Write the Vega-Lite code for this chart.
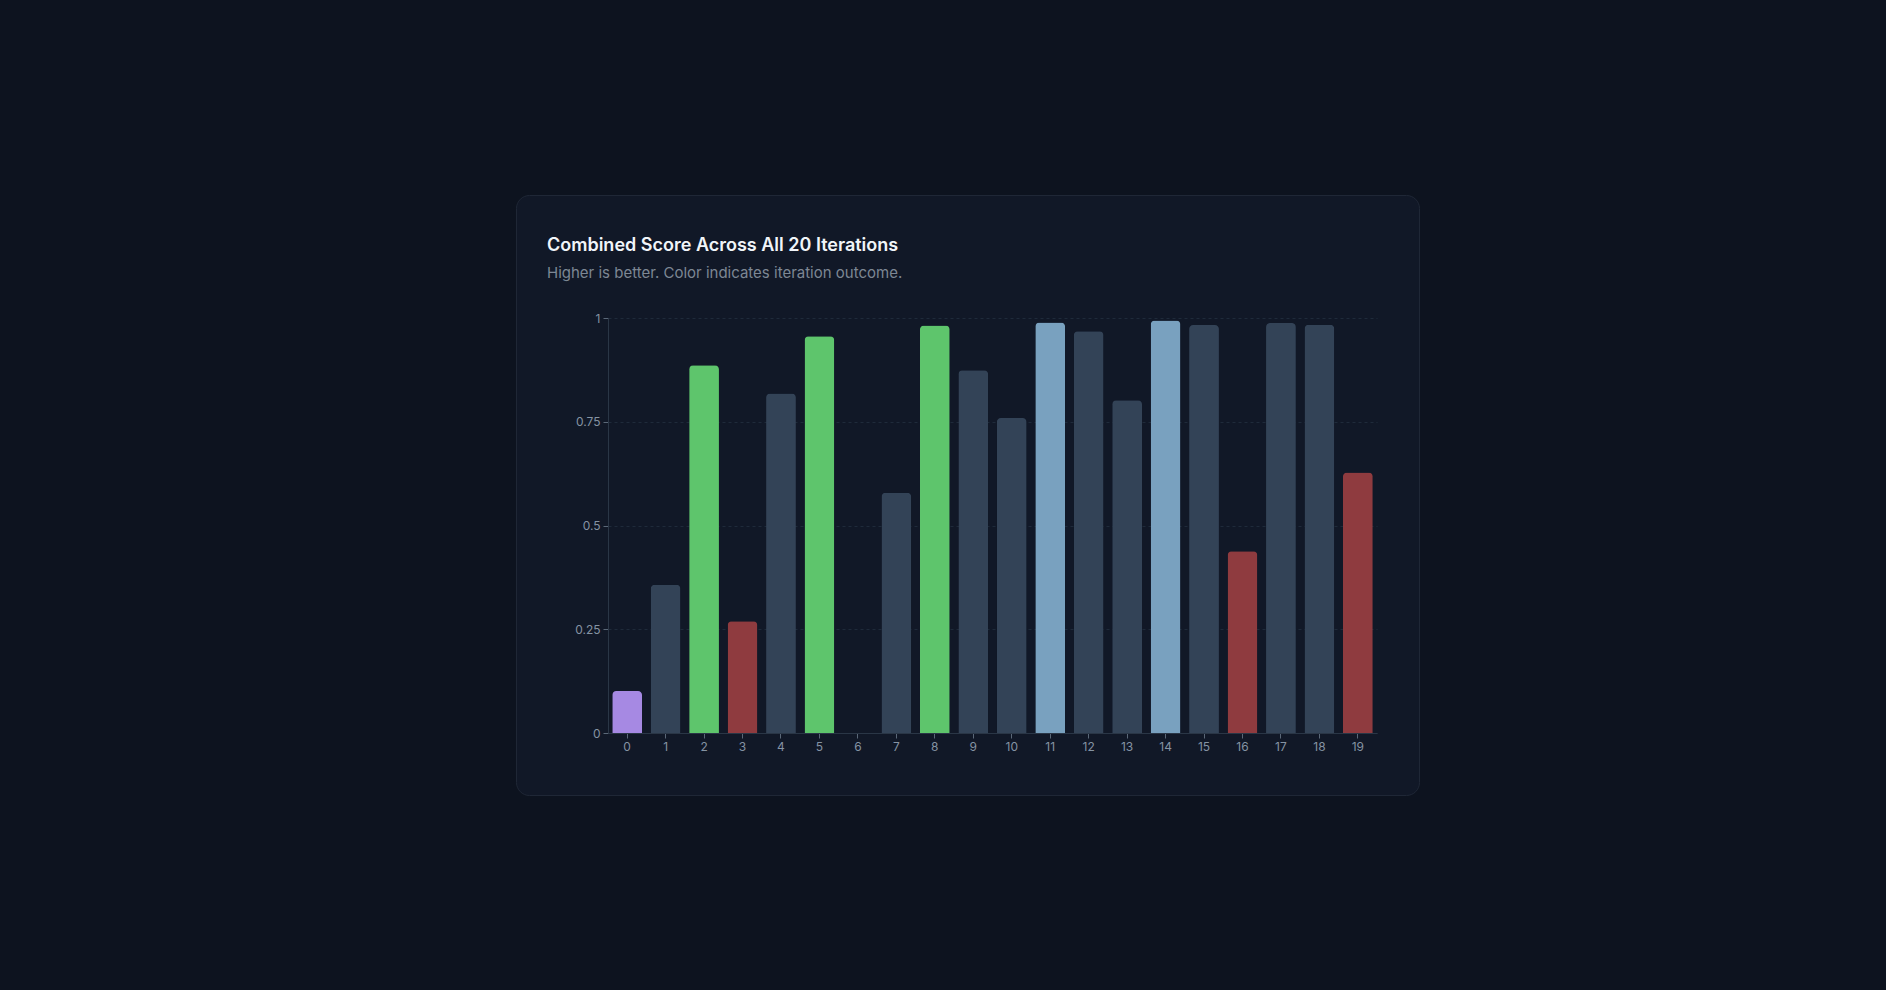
{
  "$schema": "https://vega.github.io/schema/vega-lite/v6.json",
  "autosize": {"type": "none"},
  "width": 903,
  "height": 600,
  "padding": {"left": 516, "top": 195, "right": 467, "bottom": 195},
  "background": "#0d131f",
  "title": {
    "text": "Combined Score Across All 20 Iterations",
    "subtitle": "Higher is better. Color indicates iteration outcome.",
    "anchor": "start",
    "frame": "group",
    "orient": "top",
    "offset": -86,
    "dx": 31,
    "font": "Inter",
    "fontSize": 18,
    "fontWeight": 600,
    "color": "#f1f5f9",
    "subtitleFont": "Inter",
    "subtitleFontSize": 15,
    "subtitleFontWeight": 400,
    "subtitleColor": "#7d8794",
    "subtitlePadding": 11
  },
  "data": {
    "values": [
      {"iteration": "0", "score": 0.101, "outcome": "baseline"},
      {"iteration": "1", "score": 0.357, "outcome": "neutral"},
      {"iteration": "2", "score": 0.886, "outcome": "new best"},
      {"iteration": "3", "score": 0.269, "outcome": "regression"},
      {"iteration": "4", "score": 0.818, "outcome": "neutral"},
      {"iteration": "5", "score": 0.956, "outcome": "new best"},
      {"iteration": "6", "score": 0.0, "outcome": "neutral"},
      {"iteration": "7", "score": 0.579, "outcome": "neutral"},
      {"iteration": "8", "score": 0.982, "outcome": "new best"},
      {"iteration": "9", "score": 0.874, "outcome": "neutral"},
      {"iteration": "10", "score": 0.759, "outcome": "neutral"},
      {"iteration": "11", "score": 0.989, "outcome": "marginal best"},
      {"iteration": "12", "score": 0.968, "outcome": "neutral"},
      {"iteration": "13", "score": 0.802, "outcome": "neutral"},
      {"iteration": "14", "score": 0.994, "outcome": "marginal best"},
      {"iteration": "15", "score": 0.983, "outcome": "neutral"},
      {"iteration": "16", "score": 0.438, "outcome": "regression"},
      {"iteration": "17", "score": 0.988, "outcome": "neutral"},
      {"iteration": "18", "score": 0.984, "outcome": "neutral"},
      {"iteration": "19", "score": 0.628, "outcome": "regression"}
    ]
  },
  "mark": {"type": "bar", "cornerRadiusTopLeft": 4, "cornerRadiusTopRight": 4},
  "encoding": {
    "x": {
      "field": "iteration",
      "type": "ordinal",
      "sort": null,
      "scale": {"range": [92, 861], "paddingInner": 0.225, "paddingOuter": 0.11},
      "axis": {
        "title": null,
        "labelAngle": 0,
        "offset": -62,
        "domainColor": "#2a3646",
        "tickColor": "#5b6878",
        "tickSize": 5,
        "labelColor": "#8593a3",
        "labelFont": "Inter",
        "labelFontSize": 12,
        "labelPadding": 3,
        "grid": false
      }
    },
    "y": {
      "field": "score",
      "type": "quantitative",
      "scale": {"domain": [0, 1], "range": [538, 123], "nice": false},
      "axis": {
        "title": null,
        "values": [0, 0.25, 0.5, 0.75, 1],
        "format": ".2~f",
        "offset": -92,
        "domainColor": "#2a3646",
        "tickColor": "#5b6878",
        "tickSize": 5,
        "labelColor": "#8593a3",
        "labelFont": "Inter",
        "labelFontSize": 12,
        "labelPadding": 3,
        "grid": true,
        "gridColor": "#1f2a3a",
        "gridDash": [3, 3]
      }
    },
    "color": {
      "field": "outcome",
      "type": "nominal",
      "legend": null,
      "scale": {
        "domain": ["baseline", "neutral", "new best", "regression", "marginal best"],
        "range": ["#a689e3", "#334357", "#5ec56c", "#8f3b3f", "#79a1bf"]
      }
    }
  },
  "config": {
    "view": {"fill": "#111827", "stroke": "#1f2736", "strokeWidth": 1, "cornerRadius": 13},
    "font": "Inter"
  }
}
